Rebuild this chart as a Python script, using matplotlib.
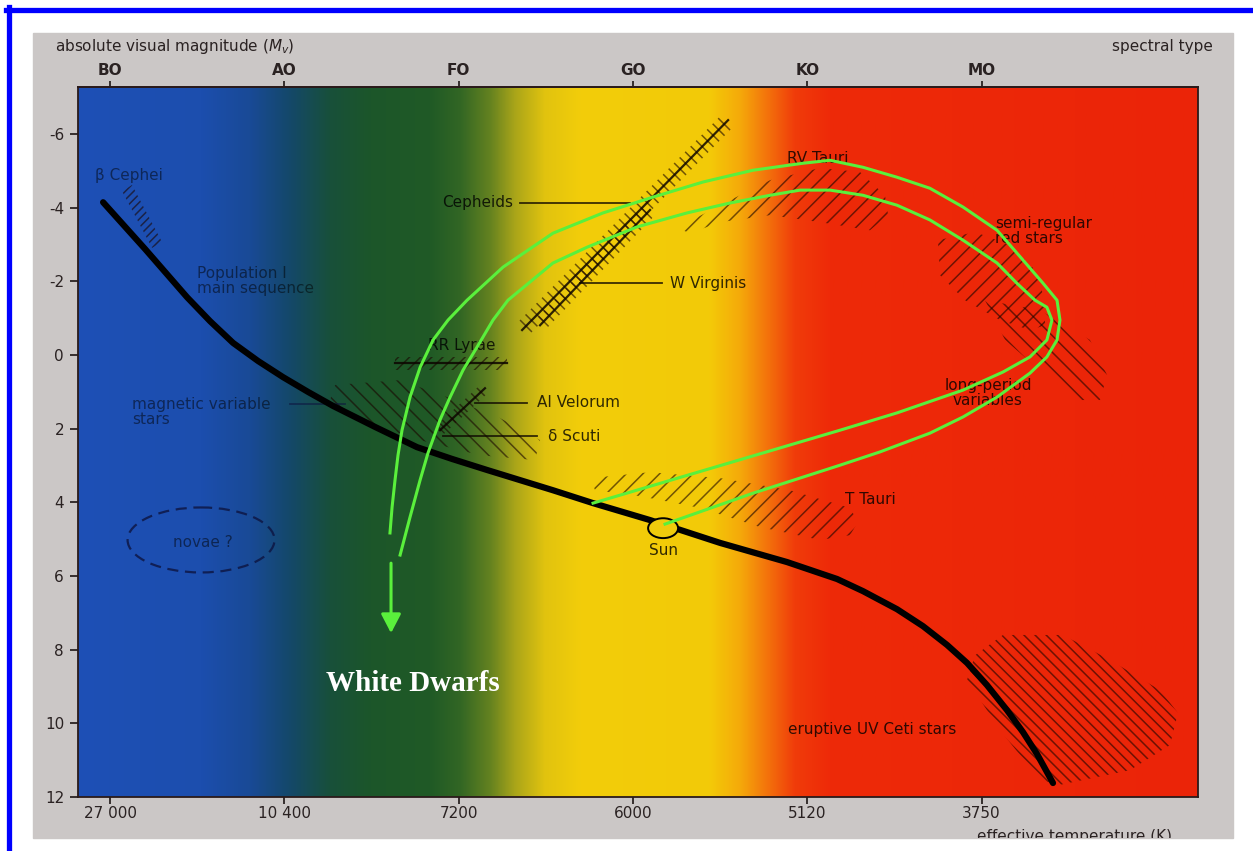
import numpy as np
import matplotlib.pyplot as plt
from matplotlib.colors import LinearSegmentedColormap
from matplotlib.patches import Polygon, Ellipse, Rectangle
from matplotlib.lines import Line2D

plt.rcParams['font.family'] = 'DejaVu Sans'
plt.rcParams['mathtext.fontset'] = 'custom'
plt.rcParams['mathtext.it'] = 'DejaVu Sans:italic'
plt.rcParams['mathtext.rm'] = 'DejaVu Sans'
plt.rcParams['hatch.linewidth'] = 1.1

# x = spectral class index (B0=0 ... M0=5), y = absolute visual magnitude
spectral = ['BO', 'AO', 'FO', 'GO', 'KO', 'MO']
temps = ['27 000', '10 400', '7200', '6000', '5120', '3750']
mag_ticks = [-6, -4, -2, 0, 2, 4, 6, 8, 10, 12]

# main sequence
ms_x = [-0.040, 0.201, 0.442, 0.574, 0.706, 0.849, 0.993, 1.136, 1.279, 1.520,
        1.761, 1.962, 2.163, 2.541, 2.771, 3.098, 3.500, 3.884, 4.171, 4.320,
        4.515, 4.664, 4.802, 4.917, 5.031, 5.146, 5.238, 5.318, 5.410]
ms_m = [-4.15, -2.88, -1.57, -0.92, -0.33, 0.16, 0.60, 1.00, 1.38, 1.95,
        2.50, 2.82, 3.12, 3.67, 4.02, 4.48, 5.10, 5.62, 6.08, 6.41,
        6.90, 7.36, 7.87, 8.36, 8.96, 9.64, 10.24, 10.83, 11.62]
sun = (3.173, 4.70)

# evolutionary tracks (green)
track_sun_x = [3.184, 3.689, 4.188, 4.417, 4.704, 4.894, 5.089, 5.278, 5.375,
               5.433, 5.450, 5.433, 5.353, 5.238, 5.089, 4.894, 4.704, 4.515,
               4.320, 4.131, 3.976, 3.689, 3.402, 3.115, 2.828, 2.541, 2.255,
               2.048, 1.939, 1.853, 1.779, 1.721, 1.675, 1.652, 1.635, 1.618,
               1.606]
track_sun_m = [4.59, 3.75, 2.99, 2.63, 2.12, 1.68, 1.14, 0.49, 0.05,
               -0.41, -0.95, -1.49, -1.95, -2.58, -3.39, -4.02, -4.53, -4.83,
               -5.10, -5.29, -5.21, -5.02, -4.70, -4.29, -3.86, -3.31, -2.39,
               -1.49, -0.95, -0.41, 0.33, 1.14, 2.04, 2.72, 3.39, 4.13,
               4.83]
track_hot_x = [2.771, 4.188, 4.515, 4.894, 5.123, 5.278, 5.375, 5.404, 5.375,
               5.307, 5.203, 5.089, 4.894, 4.704, 4.515, 4.320, 4.131, 3.959,
               3.787, 3.557, 3.310, 3.023, 2.737, 2.541, 2.283, 2.197, 2.106,
               2.025, 1.951, 1.893, 1.824, 1.779, 1.721, 1.664]
track_hot_m = [4.02, 2.04, 1.57, 0.95, 0.46, 0.05, -0.41, -0.95, -1.30,
               -1.49, -1.95, -2.50, -3.12, -3.67, -4.07, -4.34, -4.48, -4.48,
               -4.34, -4.13, -3.86, -3.48, -2.93, -2.50, -1.49, -0.95, -0.22,
               0.41, 1.14, 1.76, 2.66, 3.39, 4.40, 5.43]
wd_arrow_x = 1.612
wd_arrow_m = (5.65, 7.55)

# variable-star regions
beta_cephei = [(0.126, -4.62), (0.298, -3.07), (0.241, -2.91), (0.069, -4.45)]
cepheids = [(2.398, -0.52), (3.580, -6.22), (3.511, -6.54), (2.329, -0.84)]
cepheid_line = [(2.364, 3.546), (-0.68, -6.38)]
w_virginis = [(2.496, -0.68), (3.127, -3.80), (3.069, -4.07), (2.438, -0.95)]
w_virginis_line = [(2.467, 3.098), (-0.81, -3.94)]
rr_lyrae = [(1.635, 0.05), (2.278, 0.05), (2.278, 0.41), (1.635, 0.41)]
rr_lyrae_line = [(1.635, 2.278), (0.22, 0.22)]
ai_velorum = [(1.916, 2.14), (2.174, 1.00), (2.128, 0.79), (1.870, 1.93)]
ai_velorum_line = [(1.893, 2.151), (2.04, 0.90)]
magnetic = [(1.291, 0.81), (1.664, 0.68), (1.951, 1.17), (2.237, 1.71),
            (2.467, 2.31), (2.438, 2.85), (2.123, 2.72), (1.779, 2.31),
            (1.434, 1.76), (1.262, 1.22)]
t_tauri = [(2.754, 3.34), (3.098, 3.18), (3.500, 3.34), (3.901, 3.67),
           (4.245, 4.15), (4.291, 4.53), (4.245, 4.89), (4.073, 5.02),
           (3.729, 4.67), (3.385, 4.15), (3.041, 3.83), (2.783, 3.67)]
rv_tauri = [(3.253, -3.45), (3.500, -4.07), (3.787, -4.75), (4.073, -5.08),
            (4.303, -4.97), (4.446, -4.34), (4.464, -3.80), (4.360, -3.39),
            (4.073, -3.61), (3.787, -3.80), (3.500, -3.61), (3.328, -3.31)]
semi_regular = [(4.750, -3.12), (4.963, -3.34), (5.164, -2.99), (5.307, -2.31),
                (5.364, -1.49), (5.364, -0.81), (5.278, -0.68), (5.106, -0.95),
                (4.905, -1.49), (4.762, -2.17)]
long_period = [(5.020, -1.49), (5.335, -1.22), (5.622, -0.41), (5.720, 0.54),
               (5.680, 1.22), (5.565, 1.22), (5.335, 0.41), (5.135, -0.41)]
uv_ceti = [(5.123, 7.60), (5.467, 7.60), (5.737, 8.28), (6.024, 9.10),
           (6.127, 9.72), (6.081, 10.59), (5.852, 11.27), (5.450, 11.67),
           (5.335, 11.54), (5.106, 10.18), (4.917, 8.82), (4.963, 8.15)]
novae = (0.522, 5.02, 0.843, 1.765)

W, H = 1253, 851


def fbox(x0, y0, x1, y1):
    return [x0 / W, 1 - y1 / H, (x1 - x0) / W, (y1 - y0) / H]


fig = plt.figure(figsize=(12.53, 8.51), dpi=100)

# scanned page and slide frame
page = Rectangle(fbox(33, 33, 1233, 838)[:2], 1200 / W, 805 / H,
                 transform=fig.transFigure, color='#cbc7c6', zorder=-5)
fig.add_artist(page)
fig.add_artist(Line2D([6 / W, 1], [1 - 9.5 / H] * 2, transform=fig.transFigure,
                      color='#0000ff', lw=3.8, zorder=10))
fig.add_artist(Line2D([8.5 / W] * 2, [0, 1 - 7 / H], transform=fig.transFigure,
                      color='#0000ff', lw=3.8, zorder=10))

ax = fig.add_axes(fbox(78, 87, 1198, 797))
x0, x1 = -0.184, 6.242
ax.set_xlim(x0, x1)
ax.set_ylim(12.0, -7.28)

# colour band behind the diagram
stops_px = [78, 200, 250, 290, 330, 370, 430, 460, 490, 515, 545, 580, 710, 740,
            770, 795, 830, 1198]
stops_rgb = [(30, 80, 182), (28, 78, 174), (25, 74, 150), (20, 72, 105), (24, 80, 58),
             (28, 86, 42), (32, 90, 38), (50, 102, 36), (100, 130, 32), (170, 165, 25),
             (225, 195, 15), (242, 205, 10), (243, 202, 8), (245, 170, 10),
             (243, 110, 12), (240, 60, 10), (238, 42, 8), (235, 36, 8)]
cmap = LinearSegmentedColormap.from_list(
    'band', [((p - 78) / 1120, tuple(c / 255 for c in rgb)) for p, rgb in zip(stops_px, stops_rgb)],
    N=2048)
ax.imshow(np.linspace(0, 1, 1200)[None, :], cmap=cmap, aspect='auto',
          extent=[x0, x1, 12.0, -7.28], zorder=0, interpolation='bilinear')

hatch_col = (0.1, 0.02, 0.0, 0.6)
for poly, hatch in [(beta_cephei, '////'), (cepheids, '\\\\\\'), (w_virginis, '\\\\\\'),
                    (rr_lyrae, '///'), (ai_velorum, '\\\\\\'), (magnetic, '\\\\'),
                    (t_tauri, '//'), (rv_tauri, '//'), (semi_regular, '//'),
                    (long_period, '\\\\'), (uv_ceti, '\\\\\\')]:
    ax.add_patch(Polygon(poly, closed=True, facecolor='none', edgecolor=hatch_col,
                         hatch=hatch, lw=0, zorder=2))
for xs, ms in [cepheid_line, w_virginis_line, rr_lyrae_line, ai_velorum_line]:
    ax.plot(xs, ms, color=(0.05, 0.02, 0, 0.85), lw=1.6, zorder=3)

ax.add_patch(Ellipse(novae[:2], novae[2], novae[3], facecolor='none',
                     edgecolor=(0.05, 0.08, 0.25, 0.8), lw=1.6, ls=(0, (5, 3)), zorder=3))

# main sequence and the Sun
ax.plot(ms_x, ms_m, color='black', lw=4.5, solid_capstyle='round',
        solid_joinstyle='round', zorder=4)
ax.add_patch(Ellipse(sun, 0.172, 0.54, facecolor='#efcb0c', edgecolor='black',
                     lw=1.4, zorder=5))

# leader lines
lead = (0.05, 0.02, 0, 0.8)
ax.plot([2.352, 2.983], [-4.13, -4.13], color=lead, lw=1.3, zorder=3)
ax.plot([2.697, 3.167], [-1.95, -1.95], color=lead, lw=1.3, zorder=3)
ax.plot([2.094, 2.392], [1.30, 1.30], color=lead, lw=1.3, zorder=3)
ax.plot([1.910, 2.450], [2.20, 2.20], color=lead, lw=1.3, zorder=3)
ax.plot([1.033, 1.348], [1.33, 1.33], color=(0.05, 0.08, 0.25, 0.6), lw=1.3, zorder=3)

fs = 11
dark = dict(color='black', alpha=0.8, fontsize=fs, va='center', zorder=6)
navy = dict(color='black', alpha=0.5, fontsize=fs, va='center', zorder=6)
ax.text(-0.086, -4.89, 'β Cephei', **navy)
ax.text(0.499, -2.02, 'Population I\nmain sequence', linespacing=1.0, **navy)
ax.text(0.126, 1.55, 'magnetic variable\nstars', linespacing=1.0, **navy)
ax.text(0.534, 5.08, 'novae ?', ha='center', **navy)
ax.text(2.312, -4.15, 'Cepheids', ha='right', **dark)
ax.text(3.213, -1.95, 'W Virginis', **dark)
ax.text(2.019, -0.27, 'RR Lyrae', ha='center', **dark)
ax.text(2.450, 1.30, 'AI Velorum', **dark)
ax.text(2.513, 2.22, 'δ Scuti', **dark)
ax.text(3.173, 5.30, 'Sun', ha='center', **dark)
ax.text(3.884, -5.35, 'RV Tauri', **dark)
ax.text(5.078, -3.37, 'semi-regular\nred stars', linespacing=1.0, **dark)
ax.text(5.037, 1.02, 'long-period\nvariables', ha='center', linespacing=1.0, **dark)
ax.text(4.217, 3.91, 'T Tauri', **dark)
ax.text(3.890, 10.18, 'eruptive UV Ceti stars', **dark)

# evolutionary tracks towards the white dwarfs
green = '#5af03c'
for xs, ms in [(track_sun_x, track_sun_m), (track_hot_x, track_hot_m)]:
    ax.plot(xs, ms, color=green, lw=2.2, solid_joinstyle='round', zorder=8)
ax.annotate('', xy=(wd_arrow_x, wd_arrow_m[1]), xytext=(wd_arrow_x, wd_arrow_m[0]),
            arrowprops=dict(arrowstyle='-|>,head_length=1.15,head_width=0.6',
                            color=green, lw=2.2, shrinkA=0, shrinkB=0), zorder=8)
ax.text(1.738, 8.91, 'White Dwarfs', color='white', fontsize=21, fontweight='bold',
        family='Liberation Serif', ha='center', va='center', zorder=9)

# axes
tick_col = '#2a2222'
for s in ax.spines.values():
    s.set_color('#2a1a1a')
    s.set_linewidth(1.3)
ax.set_xticks(range(6), labels=temps)
ax.set_yticks(mag_ticks, labels=[str(m) for m in mag_ticks])
ax.tick_params(axis='x', length=5, width=1.3, pad=1.5, color=tick_col,
               labelcolor=tick_col, labelsize=fs)
ax.tick_params(axis='y', length=6, width=1.3, pad=4, color=tick_col,
               labelcolor=tick_col, labelsize=fs)
top = ax.secondary_xaxis('top')
top.set_xticks(range(6), labels=spectral, fontweight='bold')
top.tick_params(length=4, width=1.3, pad=2.5, color=tick_col, labelcolor=tick_col,
                labelsize=fs)
top.spines['top'].set_color('#2a1a1a')
top.spines['top'].set_linewidth(1.3)

fig.text(55 / W, 1 - 47 / H, r'absolute visual magnitude ($M_v$)', fontsize=fs,
         color=tick_col, va='center')
fig.text(1213 / W, 1 - 47 / H, 'spectral type', fontsize=fs, color=tick_col,
         ha='right', va='center')
t = fig.text(977 / W, 1 - 836 / H, 'effective temperature (K)', fontsize=fs,
             color=tick_col, va='center')
t.set_clip_path(page)

fig.savefig('out.png', dpi=100)
